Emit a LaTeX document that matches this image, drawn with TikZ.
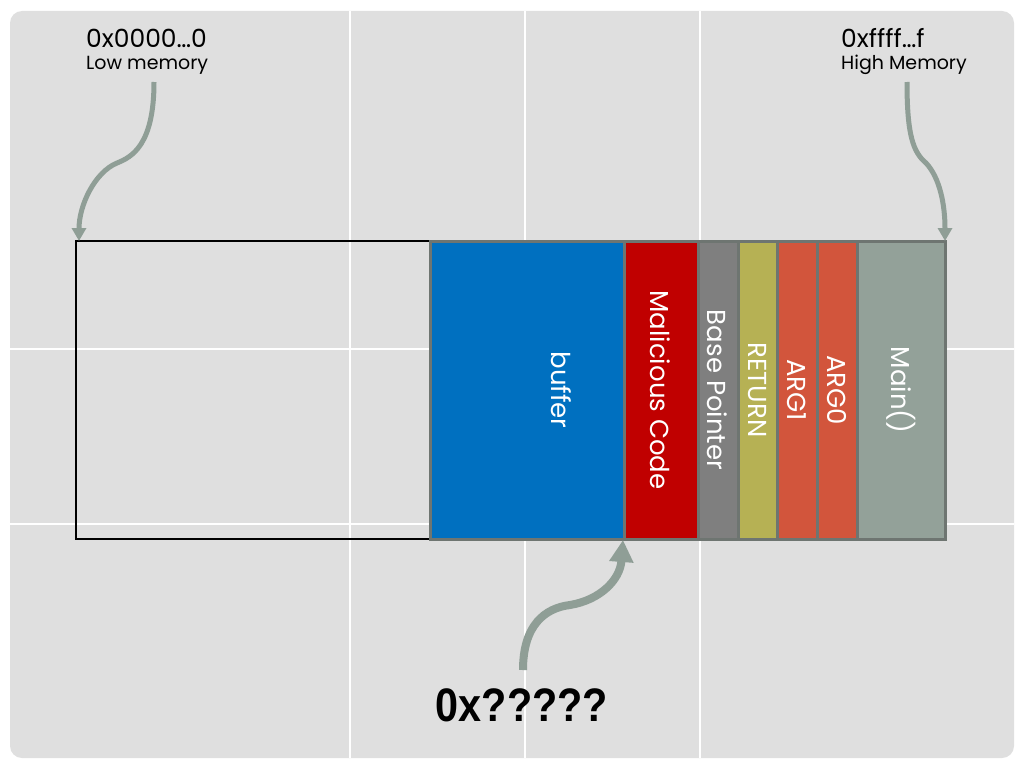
\documentclass[tikz,border=0pt]{standalone}
\usepackage{fontspec}
\setmainfont{Poppins}
\newfontfamily\boldsans{Liberation Sans}
\usetikzlibrary{arrows.meta,positioning}
\definecolor{panelgray}{HTML}{DFDFDF}
\definecolor{arrowgray}{HTML}{8F9E96}
\definecolor{segline}{HTML}{6E7571}
\definecolor{bufblue}{HTML}{0070C0}
\definecolor{malred}{HTML}{C00000}
\definecolor{bpgray}{HTML}{7F7F7F}
\definecolor{retolive}{HTML}{B6B154}
\definecolor{argred}{HTML}{D2553C}
\definecolor{maingray}{HTML}{93A199}

\begin{document}
\begin{tikzpicture}[x=1pt, y=-1pt,
    seglabel/.style={text=white, font=\fontsize{26}{30}\selectfont, rotate=-90, inner sep=0pt},
    addrlabel/.style={font=\fontsize{25}{28}\selectfont, anchor=west, inner sep=0pt},
    memlabel/.style={font=\fontsize{19}{22}\selectfont, anchor=west, inner sep=0pt},
    pointer/.style={draw=arrowgray, line width=5pt, -{Triangle[length=13pt,width=14pt]}},
    bigpointer/.style={draw=arrowgray, line width=8pt, -{Triangle[length=22pt,width=23pt]}}
]
    \useasboundingbox (0,0) rectangle (1024,768);

    % Panel and grid
    \fill[panelgray, rounded corners=12pt] (10,11) rectangle (1014,758);
    \foreach \x in {350,525,700} {
        \draw[white, line width=1.2pt] (\x,11) -- (\x,758);
    }
    \foreach \y in {349,524} {
        \draw[white, line width=1.2pt] (10,\y) -- (1014,\y);
    }

    % Stack frame outline
    \draw[black, line width=2.2pt] (76,241) rectangle (945,539);

    % Stack segments
    \foreach \l/\r/\c/\t/\tx [count=\i] in {430/624/bufblue/buffer/561,
            624/698/malred/Malicious Code/660, 698/738/bpgray/Base Pointer/717,
            738/777/retolive/RETURN/757, 777/817/argred/ARG1/797,
            817/857/argred/ARG0/837, 857/945/maingray/Main()/901} {
        \filldraw[fill=\c, draw=segline, line width=3pt] (\l,241) rectangle (\r,539);
        \node[seglabel] (seg\i) at (\tx,390) {\t};
    }

    % Address labels
    \node[addrlabel] (lowaddr) at (86,38) {0x0000…0};
    \node[memlabel] (lowmem) at (86,65) {Low memory};
    \node[addrlabel] (highaddr) at (841,38) {0xffff…f};
    \node[memlabel] (highmem) at (841,65) {High Memory};
    \node[font=\boldsans\bfseries\fontsize{47}{50}\selectfont, xscale=0.88] (guess) at (522,705) {0x?????};

    % Pointers
    \coordinate (lowstart) at (154,82);
    \coordinate (lowtip) at (79,241);
    \coordinate (highstart) at (907,82);
    \coordinate (hightip) at (945,241);
    \coordinate (guessstart) at (523,670);
    \coordinate (guesstip) at (623,540);

    \draw[pointer] (lowstart) .. controls (154,145) and (132,157) .. (117,163)
        .. controls (95,172) and (79,205) .. (lowtip);
    \draw[pointer] (highstart) .. controls (907,135) and (913,152) .. (926,163)
        .. controls (940,178) and (945,205) .. (hightip);
    \draw[bigpointer] (guessstart) .. controls (523,625) and (545,608) .. (570,605)
        .. controls (600,600) and (620,580) .. (guesstip);
\end{tikzpicture}
\end{document}
